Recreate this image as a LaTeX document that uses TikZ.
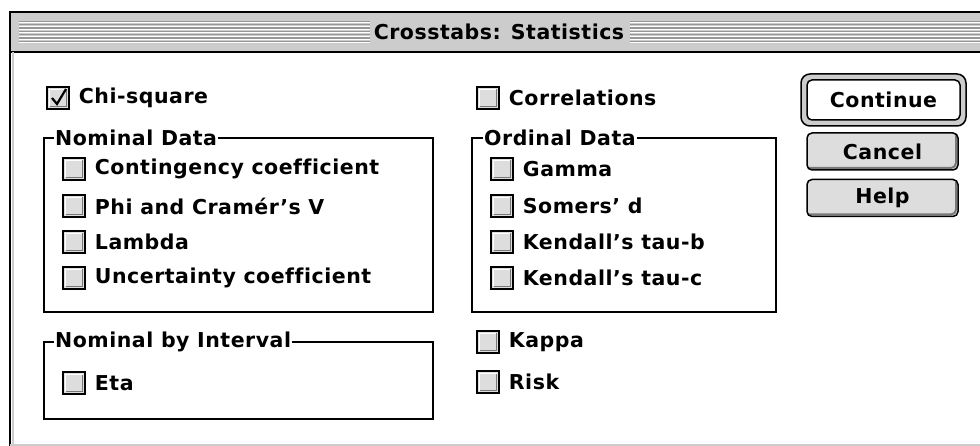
\documentclass[tikz,border=0pt]{standalone}
\usepackage{fontspec}
\setmainfont{DejaVu Sans}[LetterSpace=2.5,Ligatures=NoCommon]
\usetikzlibrary{positioning}
\definecolor{wingray}{RGB}{204,204,204}
\definecolor{boxgray}{RGB}{221,221,221}
\definecolor{stripegray}{RGB}{150,150,150}
\definecolor{shadegray}{RGB}{120,120,120}
\newcommand{\dlgfont}{\bfseries\fontsize{20.5}{24}\selectfont}

\begin{document}
\begin{tikzpicture}[
    x=1pt, y=-1pt,
    chk/.style={draw, fill=boxgray, line width=1.5pt, minimum size=22pt, inner sep=0pt,
        path picture={
            \draw[white, line width=1.5pt] ([xshift=2.5pt,yshift=2.5pt]path picture bounding box.south west) -- ([xshift=2.5pt,yshift=-2.5pt]path picture bounding box.north west) -- ([xshift=-2.5pt,yshift=-2.5pt]path picture bounding box.north east);
            \draw[shadegray, line width=1.5pt] ([xshift=2.5pt,yshift=2.5pt]path picture bounding box.south west) -- ([xshift=-2.5pt,yshift=2.5pt]path picture bounding box.south east) -- ([xshift=-2.5pt,yshift=-2.5pt]path picture bounding box.north east);
        }},
    lbl/.style={font=\dlgfont, anchor=west, inner sep=0pt},
    grp/.style={font=\dlgfont, fill=white, anchor=west, inner xsep=1pt, inner ysep=0pt},
    btn/.style={draw, fill=boxgray, line width=1.5pt, rounded corners=5pt, minimum width=151pt, minimum height=37pt, font=\dlgfont,
        path picture={
            \draw[shadegray, line width=2pt] ([xshift=2pt,yshift=2pt]path picture bounding box.south west) -- ([xshift=-2pt,yshift=2pt]path picture bounding box.south east) -- ([xshift=-2pt,yshift=-2pt]path picture bounding box.north east);
        }}
]
\useasboundingbox (0,0) rectangle (980,446);

% Window frame and title bar
\fill[wingray] (10,12) rectangle (980,52);
\foreach \y in {21.5,24.8,...,42} {
    \draw[stripegray, line width=1.2pt] (19,\y) -- (370,\y);
    \draw[stripegray, line width=1.2pt] (630,\y) -- (980,\y);
    \draw[white, line width=0.8pt] (19,\y+1.3) -- (370,\y+1.3);
    \draw[white, line width=0.8pt] (630,\y+1.3) -- (980,\y+1.3);
}
\node[font=\dlgfont, inner sep=0pt] (title) at (499,32) {Crosstabs: Statistics};
\draw[line width=1.5pt] (10,446) -- (10,12) -- (980,12);
\draw[line width=1.5pt] (10,52) -- (980,52);
\draw[wingray, line width=1.5pt] (13,52) -- (13,446);
\draw[wingray, line width=2pt] (10,445) -- (980,445);

% Top row
\node[chk] (chi) at (58,98) {};
\draw[line width=2.2pt] ([shift={(-6,0)}]chi.center) -- ([shift={(-1,6)}]chi.center) -- ([shift={(8,-9)}]chi.center);
\node[lbl, right=9pt of chi] (chilbl) {Chi-square};
\node[chk] (corr) at (488,98) {};
\node[lbl, right=9pt of corr] (corrlbl) {Correlations};

% Nominal Data
\draw[line width=1.5pt] (44,138) rectangle (433,312);
\node[grp] (nomlbl) at (54,138) {Nominal Data};
\node[chk] (cont) at (74,169) {};
\node[lbl, right=9pt of cont] (contlbl) {Contingency coefficient};
\node[chk] (phi) at (74,206) {};
\node[lbl, right=9pt of phi] (philbl) {Phi and Cramér's V};
\node[chk] (lam) at (74,242) {};
\node[lbl, right=9pt of lam] (lamlbl) {Lambda};
\node[chk] (unc) at (74,278) {};
\node[lbl, right=9pt of unc] (unclbl) {Uncertainty coefficient};

% Ordinal Data
\draw[line width=1.5pt] (472,138) rectangle (776,312);
\node[grp] (ordlbl) at (483,138) {Ordinal Data};
\node[chk] (gam) at (502,169) {};
\node[lbl, right=9pt of gam] (gamlbl) {Gamma};
\node[chk] (som) at (502,206) {};
\node[lbl, right=9pt of som] (somlbl) {Somers' d};
\node[chk] (taub) at (502,242) {};
\node[lbl, right=9pt of taub] (taublbl) {Kendall's tau-b};
\node[chk] (tauc) at (502,278) {};
\node[lbl, right=9pt of tauc] (tauclbl) {Kendall's tau-c};

% Nominal by Interval
\draw[line width=1.5pt] (44,342) rectangle (433,419);
\node[grp] (intlbl) at (54,342) {Nominal by Interval};
\node[chk] (eta) at (74,383) {};
\node[lbl, right=9pt of eta] (etalbl) {Eta};

% Kappa and Risk
\node[chk] (kap) at (488,342) {};
\node[lbl, right=9pt of kap] (kaplbl) {Kappa};
\node[chk] (risk) at (488,382) {};
\node[lbl, right=9pt of risk] (risklbl) {Risk};

% Buttons
\draw[fill=wingray, line width=1.5pt, rounded corners=9pt] (801,74) rectangle (966,126);
\node[btn, fill=white, minimum width=153pt, minimum height=40pt, path picture={}] (contbtn) at (883.5,100) {Continue};
\node[btn] (cancel) at (882.5,151.5) {Cancel};
\node[btn] (help) at (882.5,198) {Help};

\end{tikzpicture}
\end{document}
